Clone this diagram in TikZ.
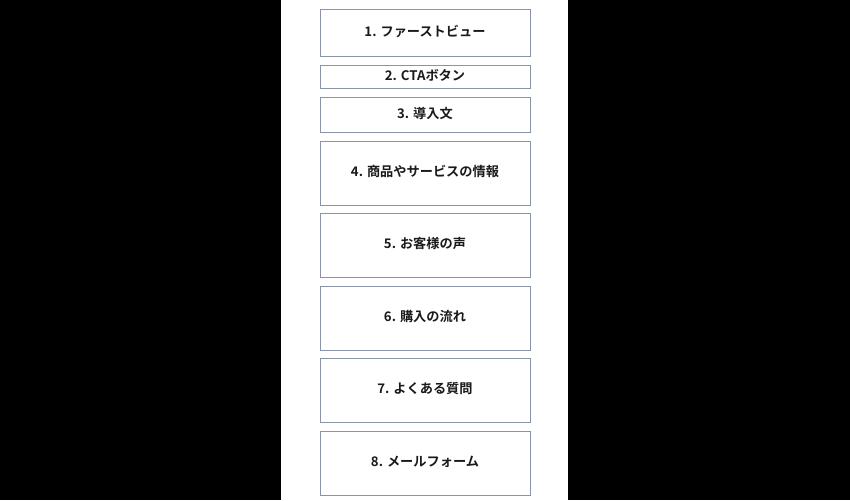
\documentclass[tikz,border=0pt]{standalone}
\usepackage{fontspec}
\setmainfont{Noto Sans CJK JP}[BoldFont={Noto Sans CJK JP Bold}]
\usepackage{tikz}
\usetikzlibrary{positioning}
\usepackage{xcolor}
\definecolor{frame}{RGB}{138,148,168}
\definecolor{label}{RGB}{26,26,26}

\tikzset{
    sectionbox/.style={draw=frame,line width=0.9pt,fill=white,minimum width=210pt,inner sep=0pt,
        text height=9pt,text depth=1.5pt,text=label,font=\fontsize{13.2}{15}\selectfont\bfseries}
}

\begin{document}
\begin{tikzpicture}[x=1pt,y=-1pt]
    \useasboundingbox (0,0) rectangle (850,500);
    \fill[black] (0,0) rectangle (850,500);
    \fill[white] (281,0) rectangle (568,500);

    \node[sectionbox,minimum height=47pt] (firstview) at (425,32.5) {1. ファーストビュー};
    \node[sectionbox,minimum height=23pt] (cta) at (425,76.5) {2. CTAボタン};
    \node[sectionbox,minimum height=35pt] (intro) at (425,114.5) {3. 導入文};
    \node[sectionbox,minimum height=64pt] (product) at (425,173) {4. 商品やサービスの情報};
    \node[sectionbox,minimum height=64pt] (voice) at (425,245) {5. お客様の声};
    \node[sectionbox,minimum height=64pt] (flow) at (425,318) {6. 購入の流れ};
    \node[sectionbox,minimum height=64pt] (faq) at (425,390) {7. よくある質問};
    \node[sectionbox,minimum height=64pt] (form) at (425,463) {8. メールフォーム};
\end{tikzpicture}
\end{document}
